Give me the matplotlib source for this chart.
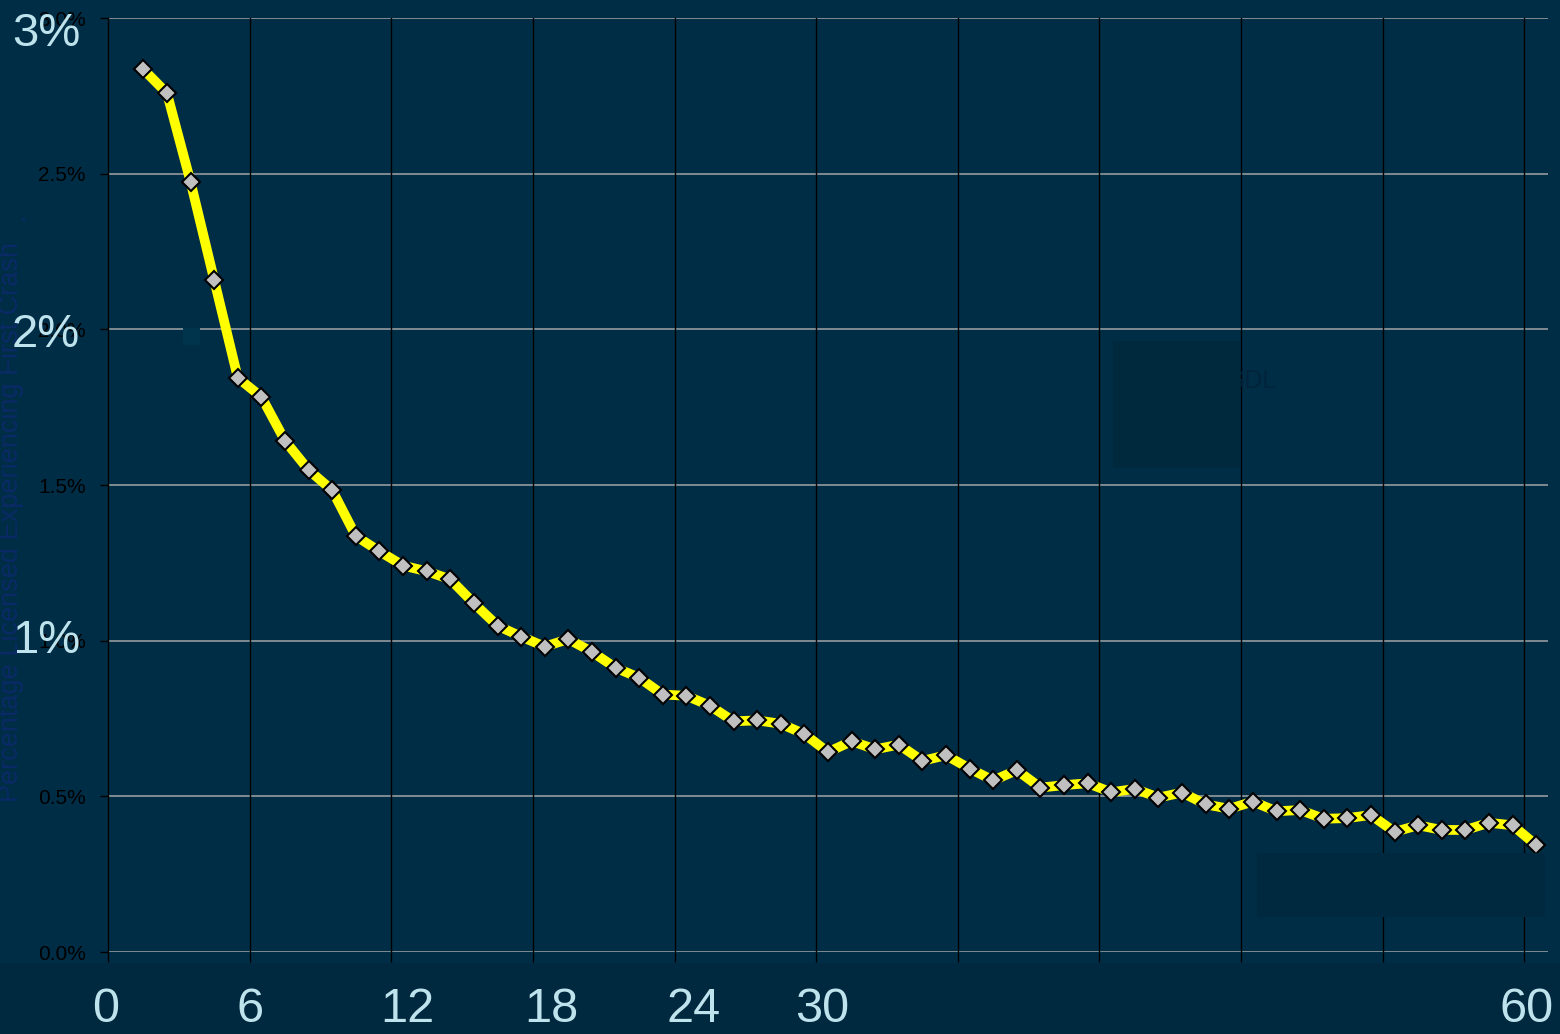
import matplotlib
matplotlib.use("Agg")
import matplotlib.pyplot as plt
from matplotlib.patches import Rectangle

# ---- data ----
months = list(range(1, 61))
pct_first_crash = [
    2.835, 2.758, 2.473, 2.158, 1.844, 1.783, 1.642, 1.548, 1.483, 1.336,
    1.287, 1.241, 1.223, 1.197, 1.120, 1.048, 1.013, 0.981, 1.005, 0.964,
    0.913, 0.881, 0.827, 0.823, 0.791, 0.741, 0.744, 0.733, 0.700, 0.642,
    0.677, 0.651, 0.666, 0.614, 0.632, 0.589, 0.551, 0.584, 0.528, 0.536,
    0.542, 0.513, 0.524, 0.496, 0.512, 0.474, 0.460, 0.483, 0.452, 0.456,
    0.428, 0.430, 0.440, 0.386, 0.407, 0.392, 0.392, 0.415, 0.407, 0.343,
]
y_ticks = [0.0, 0.5, 1.0, 1.5, 2.0, 2.5, 3.0]
y_tick_labels = ["0.0%", "0.5%", "1.0%", "1.5%", "2.0%", "2.5%", "3.0%"]
x_ticks = [0, 6, 12, 18, 24, 30, 36, 42, 48, 54, 60]
big_x_labels = ["0", "6", "12", "18", "24", "30", "60"]
big_y_labels = ["3%", "2%", "1%"]
y_title = "Percentage Licensed Experiencing First Crash"

# ---- layout ----
W, H = 1560, 1034
BG = "#002D46"
BAND = "#00283E"
LIGHT = "#BEE3EC"

def fx(x):
    return x / W

def fy(y):
    return 1 - y / H

plt.rcParams["font.family"] = ["Liberation Sans", "DejaVu Sans"]
fig = plt.figure(figsize=(W / 100, H / 100), dpi=100, facecolor=BG)

# darker band at the bottom
fig.add_artist(Rectangle((0, 0), 1, fy(963), transform=fig.transFigure,
                         facecolor=BAND, edgecolor="none", zorder=-1))

ax = fig.add_axes([fx(108), fy(952), fx(1548) - fx(108), fy(18) - fy(952)])
ax.set_facecolor(BG)
ax.set_xlim(0, 61)
ax.set_ylim(0, 3.0)

# grid
ax.set_yticks(y_ticks)
ax.set_yticklabels(y_tick_labels, fontsize=15, color="black")
ax.set_xticks(x_ticks)
ax.set_xticklabels([""] * len(x_ticks))
for v in y_ticks:
    ax.axhline(v, color="#8A9298", lw=1.3, zorder=1)
for v in x_ticks[1:]:
    ax.axvline(v, color="black", lw=1.0, zorder=1)

ax.tick_params(axis="y", direction="out", length=6, width=1, color="black", pad=10)
ax.tick_params(axis="x", direction="out", length=7.5, width=1, color="black")
for s in ["top", "right", "bottom"]:
    ax.spines[s].set_visible(False)
ax.spines["left"].set_color("black")
ax.spines["left"].set_linewidth(1.0)

xs = [m + 0.5 for m in months]
ax.plot(xs, pct_first_crash, color="#FFFF00", lw=7, marker="D", ms=9.5,
        mfc="#C0C0C0", mec="black", mew=1.5, zorder=5, solid_joinstyle="miter")

# overlay big labels
for lab, yb in zip(big_y_labels, [46, 347, 653]):
    fig.text(fx(12), fy(yb), lab, fontsize=34, color=LIGHT, ha="left", va="baseline")
for lab, xc in zip(big_x_labels, [106, 250, 407, 551, 694, 822, 1527]):
    fig.text(fx(xc), fy(1022), lab, fontsize=35, color=LIGHT, ha="center", va="baseline")

# faint axis title
fig.text(fx(11), fy(522), y_title, rotation=90, fontsize=19.5, color="#0A2A66",
         ha="center", va="center")
fig.text(fx(16), fy(216), ".", rotation=90, fontsize=19.5, color="#0A2A66",
         ha="center", va="center")

# faint leftover text / boxes
fig.text(fx(1226), fy(388), "GDL", fontsize=18, color="#00253B", ha="left",
         va="baseline", zorder=3)
fig.add_artist(Rectangle((fx(1113), fy(468)), fx(1240) - fx(1113), fy(341) - fy(468),
                         transform=fig.transFigure, facecolor="#00293E",
                         edgecolor="none", zorder=4))
fig.add_artist(Rectangle((fx(1257), fy(917)), fx(1545) - fx(1257), fy(853) - fy(917),
                         transform=fig.transFigure, facecolor="#00293F",
                         edgecolor="none", zorder=4))
fig.add_artist(Rectangle((fx(183), fy(345)), fx(200) - fx(183), fy(328) - fy(345),
                         transform=fig.transFigure, facecolor="#00344D",
                         edgecolor="none", zorder=4))

fig.savefig("out.png", dpi=100, facecolor=BG)
